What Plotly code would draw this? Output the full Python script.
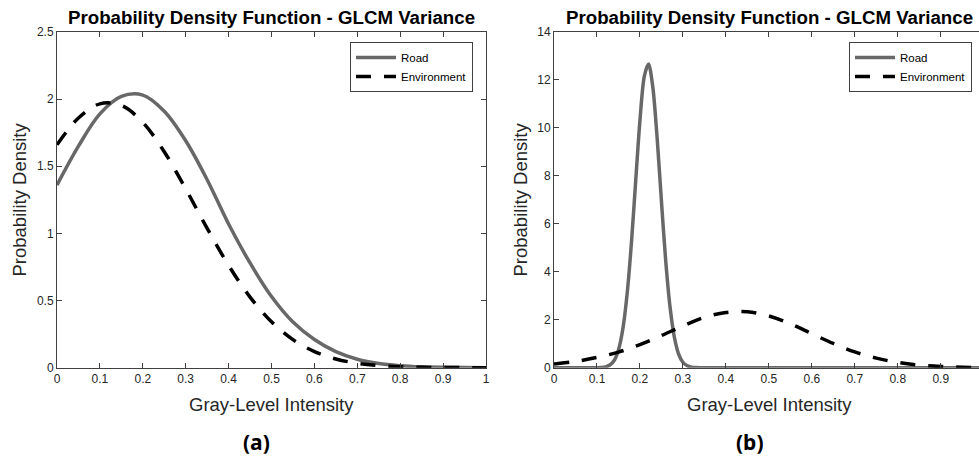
import plotly.graph_objects as go

# ---------------- data ----------------
road_a_x = [0, 0.05, 0.1, 0.15, 0.2, 0.25, 0.3, 0.35, 0.4, 0.45, 0.5, 0.55,
            0.6, 0.65, 0.7, 0.75, 0.8, 0.85, 0.9, 0.95, 1.0]
road_a_y = [1.36, 1.65, 1.89, 2.02, 2.03, 1.91, 1.69, 1.40, 1.07, 0.78, 0.53, 0.34,
            0.21, 0.12, 0.063, 0.031, 0.015, 0.0064, 0.0026, 0.001, 0.0004]

env_a_x = [0, 0.05, 0.1, 0.15, 0.2, 0.25, 0.3, 0.35, 0.4, 0.45, 0.5, 0.55,
           0.6, 0.65, 0.7, 0.75, 0.8, 0.85, 0.9, 0.95, 1.0]
env_a_y = [1.66, 1.86, 1.965, 1.953, 1.827, 1.608, 1.332, 1.038, 0.762, 0.526,
           0.342, 0.209, 0.120, 0.065, 0.033, 0.016, 0.0072, 0.003, 0.0012, 0.0005, 0.0002]

road_b_x = [0, 0.05, 0.1, 0.11, 0.12, 0.13, 0.14, 0.15, 0.16, 0.17, 0.18, 0.19, 0.2,
            0.21, 0.22, 0.23, 0.24, 0.25, 0.26, 0.27, 0.28, 0.29, 0.3, 0.31, 0.32,
            0.33, 0.34, 0.35, 0.4, 0.5, 0.6, 0.7, 0.8, 0.9, 1.0]
road_b_y = [0, 0, 0.003, 0.01, 0.035, 0.11, 0.30, 0.74, 1.59, 3.05, 5.16, 7.75, 10.31,
            12.14, 12.67, 11.70, 9.58, 6.95, 4.46, 2.54, 1.28, 0.57, 0.227, 0.08, 0.025,
            0.007, 0.002, 0, 0, 0, 0, 0, 0, 0, 0]

env_b_x = [0, 0.05, 0.1, 0.15, 0.2, 0.25, 0.3, 0.35, 0.4, 0.45, 0.5, 0.55, 0.6, 0.65,
           0.7, 0.75, 0.8, 0.85, 0.9, 0.95, 1.0]
env_b_y = [0.15, 0.26, 0.43, 0.65, 0.96, 1.34, 1.74, 2.10, 2.30, 2.33, 2.16, 1.83, 1.42,
           1.01, 0.66, 0.40, 0.22, 0.11, 0.05, 0.02, 0.008]

x_ticks = [0, 0.1, 0.2, 0.3, 0.4, 0.5, 0.6, 0.7, 0.8, 0.9, 1]
x_tick_text = ["0", "0.1", "0.2", "0.3", "0.4", "0.5", "0.6", "0.7", "0.8", "0.9", "1"]
y_ticks_a = [0, 0.5, 1, 1.5, 2, 2.5]
y_ticks_a_text = ["0", "0.5", "1", "1.5", "2", "2.5"]
y_ticks_b = [0, 2, 4, 6, 8, 10, 12, 14]

title_text = "Probability Density Function - GLCM Variance"
x_label = "Gray-Level Intensity"
y_label = "Probability Density"
series_names = ["Road", "Environment"]
panel_labels = ["(a)", "(b)"]

# ---------------- styling ----------------
W, H = 979, 462
FONT = "Liberation Sans, Arial, Helvetica, sans-serif"
ROAD_COLOR = "#686868"
ENV_COLOR = "#000000"
AX_COLOR = "#404040"
TXT_COLOR = "#262626"

fig = go.Figure()

fig.add_trace(go.Scatter(x=road_a_x, y=road_a_y, mode="lines", name=series_names[0],
                         line=dict(color=ROAD_COLOR, width=3.5, shape="spline", smoothing=1),
                         xaxis="x", yaxis="y", legend="legend"))
fig.add_trace(go.Scatter(x=env_a_x, y=env_a_y, mode="lines", name=series_names[1],
                         line=dict(color=ENV_COLOR, width=3.5, dash="15px,13px",
                                   shape="spline", smoothing=1),
                         xaxis="x", yaxis="y", legend="legend"))
fig.add_trace(go.Scatter(x=road_b_x, y=road_b_y, mode="lines", name=series_names[0],
                         line=dict(color=ROAD_COLOR, width=3.5, shape="spline", smoothing=0.8),
                         xaxis="x2", yaxis="y2", legend="legend2"))
fig.add_trace(go.Scatter(x=env_b_x, y=env_b_y, mode="lines", name=series_names[1],
                         line=dict(color=ENV_COLOR, width=3.5, dash="15px,13px",
                                   shape="spline", smoothing=1),
                         xaxis="x2", yaxis="y2", legend="legend2"))

ydom = [1 - 367.7 / H, 1 - 32 / H]
xdom_a = [57 / W, 486 / W]
xdom_b = [554 / W, 1.0]
xmax_b = (W - 554) / 429.7

common_axis = dict(showgrid=False, zeroline=False, showline=True, linecolor=AX_COLOR,
                   linewidth=1, ticks="inside", ticklen=5, tickcolor=AX_COLOR,
                   automargin=False,
                   tickfont=dict(family=FONT, size=12, color=TXT_COLOR))

legend_common = dict(xanchor="right", yanchor="top", bgcolor="white",
                     bordercolor=AX_COLOR, borderwidth=1,
                     font=dict(family=FONT, size=11.5, color="#000000"),
                     itemwidth=40, tracegroupgap=0)

fig.update_layout(
    width=W, height=H,
    margin=dict(l=0, r=0, t=0, b=0),
    paper_bgcolor="white", plot_bgcolor="white",
    xaxis=dict(domain=xdom_a, range=[0, 1], tickvals=x_ticks, ticktext=x_tick_text,
               anchor="y", mirror="ticks", **common_axis),
    yaxis=dict(domain=ydom, range=[0, 2.5], tickvals=y_ticks_a, ticktext=y_ticks_a_text,
               anchor="x", mirror="ticks", **common_axis),
    xaxis2=dict(domain=xdom_b, range=[0, xmax_b], tickvals=x_ticks, ticktext=x_tick_text,
                anchor="y2", mirror="ticks", **common_axis),
    yaxis2=dict(domain=ydom, range=[0, 14], tickvals=y_ticks_b,
                anchor="x2", mirror=False, **common_axis),
    legend=dict(x=473 / W, y=1 - 42 / H, **legend_common),
    legend2=dict(x=972 / W, y=1 - 42 / H, **legend_common),
    showlegend=True,
)

annots = []
for cx, pcx, ycx, lab in [(271.5, 256.5, 18.5, panel_labels[0]),
                          (769, 750, 519.5, panel_labels[1])]:
    annots.append(dict(text="<b>" + title_text + "</b>", x=cx / W, y=1 - 17 / H,
                       xref="paper", yref="paper", xanchor="center", yanchor="middle",
                       showarrow=False, font=dict(family=FONT, size=18.7, color="#000000")))
    annots.append(dict(text=x_label, x=cx / W, y=1 - 404 / H, xref="paper", yref="paper",
                       xanchor="center", yanchor="middle", showarrow=False,
                       font=dict(family=FONT, size=18.5, color=TXT_COLOR)))
    annots.append(dict(text=y_label, x=ycx / W, y=1 - 200 / H, xref="paper", yref="paper",
                       xanchor="center", yanchor="middle", showarrow=False, textangle=-90,
                       font=dict(family=FONT, size=18.5, color=TXT_COLOR)))
    annots.append(dict(text="<b>" + lab + "</b>", x=pcx / W, y=1 - 442 / H,
                       xref="paper", yref="paper", xanchor="center", yanchor="middle",
                       showarrow=False, font=dict(family="Noto Sans, sans-serif", size=21,
                                                  color="#000000")))
fig.update_layout(annotations=annots)

fig.write_html("out.html")
